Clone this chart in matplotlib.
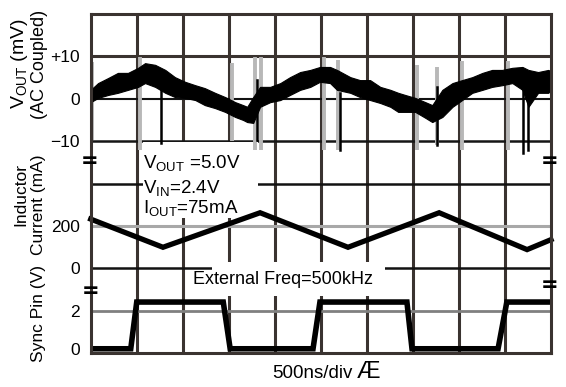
import matplotlib
matplotlib.use('Agg')
import matplotlib.pyplot as plt
from matplotlib.patches import Rectangle

plt.rcParams['font.family'] = ['Liberation Sans', 'DejaVu Sans']
plt.rcParams['mathtext.fontset'] = 'custom'
plt.rcParams['mathtext.rm'] = 'Liberation Sans'
plt.rcParams['mathtext.it'] = 'Liberation Sans:italic'
plt.rcParams['mathtext.bf'] = 'Liberation Sans:bold'

# ---------------- data (time in divisions, 500 ns/div) ----------------
vout_t = [0, 0.16, 0.38, 0.59, 0.81, 1.03, 1.18, 1.40, 1.62, 1.83, 2.05, 2.27, 2.48, 2.70,
          2.92, 3.14, 3.31, 3.40, 3.53, 3.68, 3.90, 4.12, 4.33, 4.55, 4.77, 4.98, 5.20,
          5.35, 5.64, 5.85, 6.07, 6.29, 6.51, 6.68, 6.83, 7.05, 7.27, 7.42, 7.64, 7.86,
          8.07, 8.29, 8.51, 8.72, 8.94, 9.16, 9.38, 9.51, 9.72, 9.94, 10.0]
vout_hi = [2.1, 3.7, 4.9, 6.1, 6.1, 7.3, 8.4, 8.0, 6.8, 5.1, 4.0, 3.2, 2.5, 1.4, 0.4, -0.8,
           -1.5, -1.9, 0.4, 2.8, 2.8, 3.7, 5.1, 6.3, 6.8, 7.5, 7.5, 6.8, 5.1, 4.4, 4.4, 2.8,
           2.1, 1.4, 0.9, 0.2, -0.8, -1.5, 2.1, 3.7, 4.4, 5.1, 6.1, 6.8, 6.8, 7.3, 7.5, 6.8,
           6.3, 6.8, 6.5]
vout_lo = [-0.8, 0.2, 0.9, 1.4, 2.1, 2.8, 3.7, 2.8, 1.4, 0.4, 0.2, -0.3, -1.5, -2.2, -3.1,
           -4.3, -5.0, -5.5, -5.7, -1.9, -0.8, -0.3, 0.9, 2.1, 2.8, 4.0, 3.7, 2.1, 1.4, 0.4,
           -0.3, -1.0, -1.9, -3.1, -3.1, -3.1, -4.5, -5.5, -4.3, -1.9, -0.3, 1.4, 2.1, 2.8,
           3.2, 3.7, 2.1, -1.9, 1.4, 1.4, 2.0]
# switching spikes on VOUT (mV)
spike_t = [1.53, 3.62, 5.42, 7.53, 9.40, 9.51]
spike_top = [5.0, 4.4, 1.4, 2.8, 6.8, 4.4]
spike_bot = [-10.5, -9.7, -12.1, -10.9, -12.8, -12.0]
# faint persistence traces on VOUT (mV)
ghost_t = [0.03, 1.07, 3.07, 3.57, 3.70, 5.07, 5.38, 7.09, 7.53, 8.07, 9.07]
ghost_top = [8.7, 9.8, 8.4, 9.8, 9.8, 9.8, 9.1, 8.0, 7.5, 9.0, 9.0]
ghost_bot = [-9.7, -12.1, -10.0, -12.1, -12.1, -12.1, -12.1, -12.1, -10.9, -12.1, -12.1]

il_t = [0, 1.57, 3.68, 5.59, 7.57, 9.48, 10.0]
il_ma = [232, 99, 262, 99, 262, 88, 135]

sync_t = [0, 0.87, 1.00, 2.88, 3.03, 4.83, 4.98, 6.87, 6.98, 8.85, 9.04, 10.0]
sync_v = [0, 0, 2.45, 2.45, 0, 0, 2.45, 2.45, 0, 0, 2.45, 2.45]

tick_labels = ['0', '2', '0', '200', '\u221210', '0', '+10']
notes = ['V$_{\\mathrm{OUT}}$ =5.0V', 'V$_{\\mathrm{IN}}$=2.4V', 'I$_{\\mathrm{OUT}}$=75mA']

# channel scaling (divisions)
def ch_v(mv):   return 6 + mv / 10.0
def ch_i(ma):   return 2 + ma / 200.0
def ch_s(v):    return 0.1 + v * 0.45

W, H = 566, 387
fig = plt.figure(figsize=(W / 100, H / 100), dpi=100)
L, R, T, B = 90.7, 551.0, 14.0, 353.0
ax = fig.add_axes([L / W, 1 - B / H, (R - L) / W, (B - T) / H])
ax.set_xlim(0, 10)
ax.set_ylim(0, 8)
dx = (R - L) / 10.0
dy = (B - T) / 8.0
def px(x): return (x - L) / dx
def py(y): return (B - y) / dy

DARK = '#3a3330'
# grid
for k in range(1, 10):
    ax.axvline(k, color=DARK, lw=2.2, zorder=1)
hstyle = {7: (DARK, 2.2), 6: ('#111111', 1.5), 5: ('#151515', 1.8), 4: ('#111111', 1.8),
          3: ('#a8a8a8', 2.2), 2: ('#111111', 1.8), 1: ('#808080', 2.0)}
for k, (c, w) in hstyle.items():
    ax.axhline(k, color=c, lw=w, zorder=1)

# white label areas interrupting the grid
ax.add_patch(Rectangle((px(143), py(218)), px(258) - px(143), py(142) - py(218),
                       facecolor='white', edgecolor='none', zorder=2))
ax.add_patch(Rectangle((px(212), py(296)), px(385) - px(212), py(262) - py(296),
                       facecolor='white', edgecolor='none', zorder=2))

# ghost traces
for t, a, b in zip(ghost_t, ghost_top, ghost_bot):
    ax.plot([t, t], [ch_v(a), ch_v(b)], color='#b8b8b8', lw=2.8, zorder=2.5,
            solid_capstyle='butt')

# VOUT
ax.fill_between(vout_t, [ch_v(v) for v in vout_lo], [ch_v(v) for v in vout_hi],
                color='black', lw=0.8, edgecolor='black', zorder=3)
for t, a, b in zip(spike_t, spike_top, spike_bot):
    ax.plot([t, t], [ch_v(a), ch_v(b)], color='black', lw=1.8, zorder=3)

# inductor current
ax.plot(il_t, [ch_i(v) for v in il_ma], color='black', lw=3.8, zorder=3,
        solid_joinstyle='miter', clip_on=False)
# sync pin
ax.plot(sync_t, [ch_s(v) for v in sync_v], color='black', lw=4.0, zorder=3,
        solid_joinstyle='miter')

# ticks
ax.set_xticks([])
ax.set_yticks([ch_s(0), ch_s(2), ch_i(0), ch_i(200), ch_v(-10), ch_v(0), ch_v(10)])
ax.set_yticklabels(tick_labels, fontsize=12.5)
ax.tick_params(axis='y', length=0, pad=8)
for s in ax.spines.values():
    s.set_color(DARK)
    s.set_linewidth(2.2)
    s.set_zorder(5)

# annotations
ax.text(px(143), py(168), notes[0], fontsize=13.5, va='baseline', ha='left', zorder=4)
ax.text(px(143), py(193), notes[1], fontsize=13.5, va='baseline', ha='left', zorder=4)
ax.text(px(143), py(213), notes[2], fontsize=13.5, va='baseline', ha='left', zorder=4)
ax.text(px(193), py(279), 'External Freq=500kHz', fontsize=13, va='center', ha='left',
        zorder=4)

# channel markers
for (x, y) in [(90, 161), (550, 161), (91, 291), (550, 285)]:
    ax.text(px(x), py(y), '=', fontsize=15, fontweight='bold', ha='center', va='center',
            clip_on=False, zorder=6, family='DejaVu Sans')

# axis titles
def ft(x, y, s, **kw):
    fig.text(x / W, 1 - y / H, s, rotation=90, ha='center', va='center', **kw)
ft(20, 64, 'V$_{\\mathrm{OUT}}$ (mV)', fontsize=14)
ft(39, 64, '(AC Coupled)', fontsize=13)
ft(21, 195, 'Inductor', fontsize=12.5)
ft(38, 205, 'Current (mA)', fontsize=12.5)
ft(38, 314, 'Sync Pin (V)', fontsize=12.5)
fig.text(272 / W, 1 - 373 / H, '500ns/div', fontsize=13.5, ha='left', va='center')
fig.text(357 / W, 1 - 372 / H, '\u00c6', fontsize=17, ha='left', va='center')

fig.savefig('out.png', dpi=100)
